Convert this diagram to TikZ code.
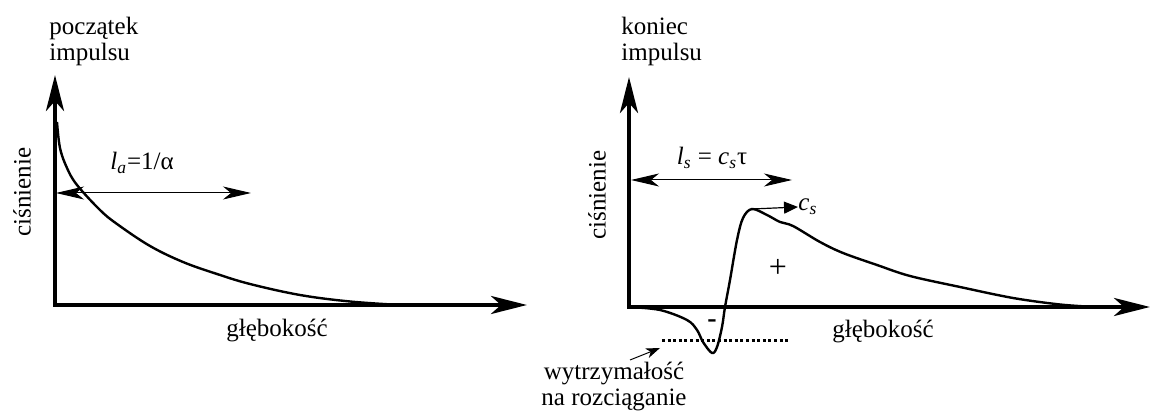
\documentclass[tikz,border=0pt]{standalone}
\usepackage{fontspec}
\setmainfont{Liberation Serif}
\usetikzlibrary{arrows.meta,positioning,calc}

\begin{document}
\begin{tikzpicture}[x=0.5pt,y=-0.5pt,font=\fontsize{12.5}{13}\selectfont,
  axis/.style={line width=2.2pt,line join=miter,
    {Stealth[length=18pt,width=9pt,inset=5pt]}-{Stealth[length=18pt,width=9pt,inset=5pt]}},
  span/.style={line width=0.5pt,
    {Stealth[length=14pt,width=6.5pt,inset=4pt]}-{Stealth[length=14pt,width=6.5pt,inset=4pt]}},
  pulse/.style={line width=1.2pt,line join=round},
  lbl/.style={inner sep=0pt}]
\useasboundingbox (0,0) rectangle (1150,415);
% --- poczatek impulsu
\coordinate (oL) at (55,305);
\coordinate (yL) at (55,75);
\coordinate (xL) at (527,305);
\draw[axis] (yL) -- (oL) -- (xL);
\draw[pulse] plot[smooth,tension=0.6] coordinates {(57,122) (60,148) (67,168) (77,185)
  (100,210) (117,224) (150,246) (183,262) (217,274) (250,284) (300,295) (350,301.5) (400,305)};
\coordinate (laA) at (56,193);
\coordinate (laB) at (251,193);
\draw[span] (laA) -- (laB);
\node[lbl] (la) at (142,163) {\textit{l}\textsubscript{\textit{a}}=1/α};
\node[lbl,anchor=north west,align=left] (titL) at (49,17) {początek\\impulsu};
\node[lbl,rotate=90] (pL) at (22,192) {ciśnienie};
\node[lbl] (gL) at (277,331) {głębokość};
% --- koniec impulsu
\coordinate (oR) at (629,307);
\coordinate (yR) at (629,77);
\coordinate (xR) at (1150,307);
\draw[axis] (yR) -- (oR) -- (xR);
\draw[pulse] plot[smooth,tension=0.55] coordinates {(629,307) (660,310) (687,320) (697,330)
  (703,342) (712,353) (717,347) (722,327) (725,307) (730,280) (737,240) (743,218)
  (752,209) (767,215) (780,222) (793,226) (820,242) (843,253) (877,265) (910,276)
  (960,287) (1013,298) (1060,304.5) (1095,307)};
\coordinate (lsA) at (631,180);
\coordinate (lsB) at (792,180);
\draw[span] (lsA) -- (lsB);
\node[lbl] (ls) at (712,158) {\textit{l}\textsubscript{\textit{s}} = \textit{c}\textsubscript{\textit{s}}τ};
\coordinate (pk) at (752,209);
\node[lbl,anchor=west] (cs) at (798,207) {\textit{c}\textsubscript{\textit{s}}};
\draw[line width=0.6pt,-{Triangle[length=7pt,width=6pt]}] (pk) -- (cs.west);
\node[lbl,font=\fontsize{16}{16}\selectfont] (plus) at (778,268) {+};
\node[lbl,font=\fontsize{14}{14}\selectfont] (minus) at (712,324) {\textbf{-}};
\coordinate (dtA) at (662,341);
\coordinate (dtB) at (790,341);
\draw[line width=1.5pt,dash pattern=on 1.5pt off 1.3pt] (dtA) -- (dtB);
\node[lbl,align=center] (wyt) at (614,387) {wytrzymałość\\na rozciąganie};
\coordinate (wa) at (630,360);
\draw[line width=0.5pt,-{Stealth[length=7pt,width=5pt,inset=2pt]}] (wa) -- ($(dtA)+(-2,7)$);
\node[lbl,anchor=north west,align=left] (titR) at (621,17) {koniec\\impulsu};
\node[lbl,rotate=90] (pR) at (597,195) {ciśnienie};
\node[lbl] (gR) at (883,332) {głębokość};
\end{tikzpicture}
\end{document}
